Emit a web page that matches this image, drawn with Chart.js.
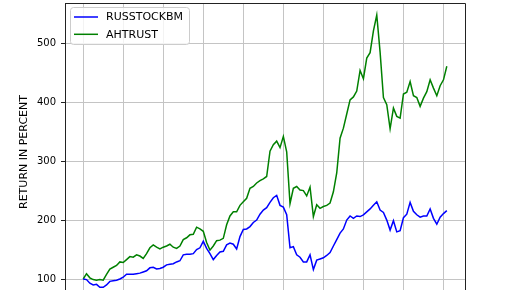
<!DOCTYPE html>
<html>
<head>
<meta charset="utf-8">
<script src="https://cdn.jsdelivr.net/npm/chart.js@4/dist/chart.umd.min.js"></script>
<style>
  html, body { margin: 0; padding: 0; background: #fff; }
  #wrap { width: 516px; height: 290px; overflow: hidden; position: relative; }
  #chart { position: absolute; left: 0; top: 0; }
</style>
</head>
<body>
<div id="wrap"><canvas id="chart" width="516" height="330"></canvas></div>
<script>
// month index of each observation (110 monthly points)
const months = Array.from({ length: 110 }, (_, i) => i);

const russStock = [
    100, 99, 93, 90, 91, 86, 86, 90, 96, 97,
    98, 100, 103, 108, 108, 108, 109, 110, 112, 114,
    119, 120, 117, 118, 120, 124, 125, 126, 129, 131,
    141, 142, 142, 143, 150, 153, 164, 152, 143, 133,
    140, 146, 147, 158, 161, 159, 151, 172, 184, 185,
    189, 196, 200, 210, 217, 221, 230, 238, 242, 225,
    222, 209, 153, 155, 141, 137, 129, 129, 141, 116,
    132, 134, 136, 140, 145, 156, 167, 178, 185, 200,
    207, 203, 207, 206, 209, 214, 219, 225, 231, 217,
    213, 200, 183, 199, 180, 182, 204, 210, 230, 215,
    209, 205, 207, 207, 219, 203, 193, 205, 211, 216
];

const ahTrust = [
    100, 109, 102, 99, 98, 99, 98, 108, 117, 120,
    123, 129, 128, 133, 138, 137, 141, 139, 135, 143,
    153, 158, 154, 151, 154, 156, 159, 154, 152, 156,
    167, 170, 175, 176, 188, 185, 181, 162, 149, 156,
    165, 166, 169, 192, 207, 214, 214, 225, 231, 237,
    254, 257, 263, 267, 270, 274, 317, 328, 334, 323,
    342, 316, 228, 254, 257, 251, 250, 241, 256, 206,
    226, 220, 223, 225, 229, 248, 280, 339, 356, 380,
    404, 409, 419, 454, 440, 475, 484, 521, 548, 485,
    408, 396, 355, 390, 376, 373, 414, 417, 435, 411,
    408, 393, 407, 418, 438, 424, 411, 428, 438, 461
];

const xTicks = [0, 12, 24, 36, 48, 60, 72, 84, 96, 108];
const yTicks = [100, 200, 300, 400, 500];

const FONT = 'DejaVu Sans';

// legend drawn inside the plot, matplotlib style
const boxLegend = {
    id: 'boxLegend',
    afterDraw(chart) {
        const ctx = chart.ctx;
        const x = 70.5, y = 7.5, w = 119, h = 37, r = 3;
        ctx.save();
        ctx.beginPath();
        ctx.roundRect(x, y, w, h, r);
        ctx.fillStyle = 'rgba(255,255,255,0.8)';
        ctx.fill();
        ctx.strokeStyle = '#cccccc';
        ctx.lineWidth = 1;
        ctx.stroke();
        ctx.font = `11px "${FONT}"`;
        ctx.textBaseline = 'middle';
        ctx.fillStyle = '#000';
        chart.data.datasets.forEach((ds, i) => {
            const ly = 17 + i * 17.3;
            ctx.beginPath();
            ctx.moveTo(74, ly);
            ctx.lineTo(98, ly);
            ctx.strokeStyle = ds.borderColor;
            ctx.lineWidth = 1.5;
            ctx.stroke();
            ctx.fillText(ds.label, 106, ly + 0.5);
        });
        ctx.restore();
    }
};

// top and right spines
const frame = {
    id: 'frame',
    afterDatasetsDraw(chart) {
        const { left, top, right, bottom } = chart.chartArea;
        const ctx = chart.ctx;
        ctx.save();
        ctx.strokeStyle = '#222';
        ctx.lineWidth = 1;
        ctx.beginPath();
        ctx.moveTo(Math.round(left) + 0.5, Math.round(top) + 0.5);
        ctx.lineTo(Math.round(right) + 0.5, Math.round(top) + 0.5);
        ctx.lineTo(Math.round(right) + 0.5, Math.round(bottom) + 0.5);
        ctx.stroke();
        ctx.restore();
    }
};

const toPoints = vals => months.map((m, i) => ({ x: m, y: vals[i] }));

new Chart(document.getElementById('chart'), {
    type: 'line',
    data: {
        datasets: [
            { label: 'RUSSTOCKBM', data: toPoints(russStock), borderColor: '#0000ff', borderWidth: 1.5, pointRadius: 0, tension: 0, fill: false },
            { label: 'AHTRUST', data: toPoints(ahTrust), borderColor: '#008000', borderWidth: 1.5, pointRadius: 0, tension: 0, fill: false }
        ]
    },
    options: {
        responsive: false, animation: false,
        layout: { padding: { left: 0, right: 51, top: 3, bottom: 0 } },
        plugins: { legend: { display: false }, tooltip: { enabled: false } },
        scales: {
            x: {
                type: 'linear', min: -5.45, max: 114.45,
                afterBuildTicks: s => { s.ticks = xTicks.map(v => ({ value: v })); },
                afterFit: s => { s.height = 29; s.paddingLeft = 0; s.paddingRight = 0; },
                ticks: { display: false },
                grid: { color: '#c4c4c4', lineWidth: 1, tickLength: 4, tickColor: '#222' },
                border: { color: '#222', width: 1 }
            },
            y: {
                min: 62.7, max: 568.4,
                afterBuildTicks: s => { s.ticks = yTicks.map(v => ({ value: v })); },
                afterFit: s => { s.width = 65; s.paddingTop = 0; s.paddingBottom = 0; },
                ticks: { color: '#000', padding: 5, font: { family: FONT, size: 10 } },
                grid: { color: '#c4c4c4', lineWidth: 1, tickLength: 4, tickColor: '#222' },
                border: { color: '#222', width: 1 },
                title: { display: true, text: 'RETURN IN PERCENT', color: '#000', font: { family: FONT, size: 11 }, padding: { top: 18, bottom: 0 } }
            }
        }
    },
    plugins: [frame, boxLegend]
});
</script>
</body>
</html>
